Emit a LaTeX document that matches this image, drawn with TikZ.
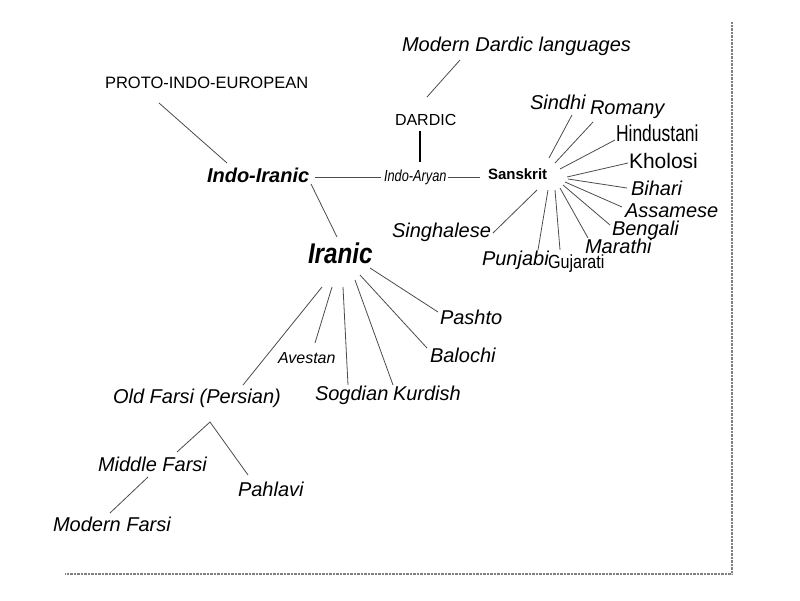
\documentclass[tikz,border=0pt]{standalone}
\usepackage{fontspec}
\setmainfont{Liberation Sans}
\newfontfamily\condA[FakeStretch=0.80]{Liberation Sans}
\newfontfamily\condB[FakeStretch=0.85]{Liberation Sans}
\newfontfamily\condC[FakeStretch=0.76]{Liberation Sans}
\begin{document}
\begin{tikzpicture}[x=1pt,y=-1pt,
  lab/.style={anchor=base west, inner sep=0pt, outer sep=0pt},
  itl/.style={lab, font=\fontsize{20}{22}\selectfont\itshape},
  link/.style={draw=black!70, line width=0.8pt},
  thicklink/.style={draw=black, line width=2pt},
  framel/.style={draw=black!50, line width=1.3pt, dash pattern=on 0.7pt off 0.7pt}]
\useasboundingbox (0,0) rectangle (800,600);
\fill[white] (0,0) rectangle (800,600);

% text nodes
\node[lab, font=\fontsize{16.5}{18}\selectfont] (pie) at (105,88) {PROTO-INDO-EUROPEAN};
\node[itl] (mdl) at (402,51) {Modern Dardic languages};
\node[lab, font=\fontsize{16}{18}\selectfont] (dardic) at (395,125) {DARDIC};
\node[lab, font=\fontsize{20}{22}\selectfont\bfseries\itshape] (indoiranic) at (207,182) {Indo-Iranic};
\node[lab, font=\condA\fontsize{16}{18}\selectfont\itshape] (indoaryan) at (384,181) {Indo-Aryan};
\node[lab, font=\fontsize{15}{17}\selectfont\bfseries] (sanskrit) at (488,179) {Sanskrit};
\node[itl] (sindhi) at (530,109) {Sindhi};
\node[itl] (romany) at (590,114) {Romany};
\node[lab, font=\condC\fontsize{23}{24}\selectfont] (hindustani) at (616,141) {Hindustani};
\node[lab, font=\fontsize{21}{22}\selectfont] (kholosi) at (629,168) {Kholosi};
\node[itl] (bihari) at (631,195) {Bihari};
\node[itl] (assamese) at (625,217) {Assamese};
\node[itl] (bengali) at (612,235) {Bengali};
\node[itl] (marathi) at (585,253) {Marathi};
\node[lab, font=\condB\fontsize{19}{20}\selectfont] (gujarati) at (548,268) {Gujarati};
\node[itl] (punjabi) at (482,265) {Punjabi};
\node[itl] (singhalese) at (392,237) {Singhalese};
\node[lab, font=\condB\fontsize{28.5}{30}\selectfont\bfseries\itshape] (iranic) at (308,263) {Iranic};
\node[itl] (pashto) at (440,324) {Pashto};
\node[itl] (balochi) at (430,362) {Balochi};
\node[itl] (sogdian) at (315,400) {Sogdian};
\node[itl] (kurdish) at (393,400) {Kurdish};
\node[lab, font=\fontsize{16}{18}\selectfont\itshape] (avestan) at (278,363) {Avestan};
\node[itl] (oldfarsi) at (113,403) {Old Farsi (Persian)};
\node[itl] (middlefarsi) at (98,471) {Middle Farsi};
\node[itl] (pahlavi) at (238,496) {Pahlavi};
\node[itl] (modernfarsi) at (53,531) {Modern Farsi};

% connector end points
\coordinate (pie-e) at (159,103);   \coordinate (ii-w) at (227,163);
\coordinate (ii-e) at (315,177);    \coordinate (ia-w) at (381,177);
\coordinate (ia-e) at (448,177);    \coordinate (sk-w) at (480,177);
\coordinate (da-s) at (420,131);    \coordinate (ia-n) at (420,162);
\coordinate (da-n) at (427,97);     \coordinate (mdl-s) at (460,60);
\coordinate (ii-s) at (311,184);    \coordinate (ir-n) at (337,237);
% Sanskrit fan
\coordinate (sk1) at (549,158); \coordinate (sindhi-e) at (572,115);
\coordinate (sk2) at (555,163); \coordinate (romany-e) at (593,122);
\coordinate (sk3) at (560,169); \coordinate (hindustani-e) at (615,140);
\coordinate (sk4) at (567,177); \coordinate (kholosi-e) at (628,163);
\coordinate (sk5) at (568,179); \coordinate (bihari-e) at (627,188);
\coordinate (sk6) at (565,182); \coordinate (assamese-e) at (622,207);
\coordinate (sk7) at (563,185); \coordinate (bengali-e) at (610,225);
\coordinate (sk8) at (560,188); \coordinate (marathi-e) at (588,238);
\coordinate (sk9) at (555,190); \coordinate (gujarati-e) at (560,250);
\coordinate (sk10) at (548,190); \coordinate (punjabi-e) at (538,250);
\coordinate (sk11) at (537,190); \coordinate (singhalese-e) at (493,233);
% Iranic fan
\coordinate (ir1) at (370,268); \coordinate (pashto-e) at (438,312);
\coordinate (ir2) at (360,275); \coordinate (balochi-e) at (427,348);
\coordinate (ir3) at (355,280); \coordinate (kurdish-e) at (393,385);
\coordinate (ir4) at (343,287); \coordinate (sogdian-e) at (348,385);
\coordinate (ir5) at (332,287); \coordinate (avestan-e) at (315,343);
\coordinate (ir6) at (322,287); \coordinate (oldfarsi-e) at (243,385);
% Farsi
\coordinate (of-apex) at (210,422);
\coordinate (mf-n) at (177,452);
\coordinate (pa-n) at (248,475);
\coordinate (mf-s) at (148,477);
\coordinate (mo-n) at (110,513);

% connectors
\draw[link] (pie-e) -- (ii-w);
\draw[link] (ii-e) -- (ia-w);
\draw[link] (ia-e) -- (sk-w);
\draw[thicklink] (da-s) -- (ia-n);
\draw[link] (da-n) -- (mdl-s);
\draw[link] (ii-s) -- (ir-n);
\draw[link] (sk1) -- (sindhi-e);
\draw[link] (sk2) -- (romany-e);
\draw[link] (sk3) -- (hindustani-e);
\draw[link] (sk4) -- (kholosi-e);
\draw[link] (sk5) -- (bihari-e);
\draw[link] (sk6) -- (assamese-e);
\draw[link] (sk7) -- (bengali-e);
\draw[link] (sk8) -- (marathi-e);
\draw[link] (sk9) -- (gujarati-e);
\draw[link] (sk10) -- (punjabi-e);
\draw[link] (sk11) -- (singhalese-e);
\draw[link] (ir1) -- (pashto-e);
\draw[link] (ir2) -- (balochi-e);
\draw[link] (ir3) -- (kurdish-e);
\draw[link] (ir4) -- (sogdian-e);
\draw[link] (ir5) -- (avestan-e);
\draw[link] (ir6) -- (oldfarsi-e);
\draw[link] (mf-n) -- (of-apex) -- (pa-n);
\draw[link] (mf-s) -- (mo-n);

% frame
\coordinate (fr-top) at (732,22);
\coordinate (fr-corner) at (732,574);
\coordinate (fr-left) at (65,574);
\draw[framel] (fr-top) -- (fr-corner) -- (fr-left);
\end{tikzpicture}
\end{document}
